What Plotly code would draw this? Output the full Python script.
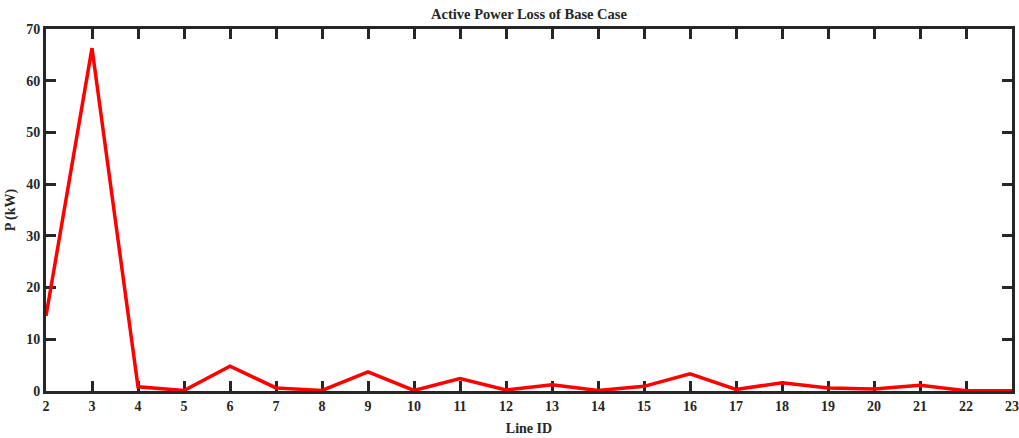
import plotly.graph_objects as go

# Active power loss per distribution line (base case)
line_ids = list(range(2, 24))
loss_kw = [14.5, 66.3, 0.8, 0.1, 4.8, 0.6, 0.1, 3.7, 0.1, 2.4, 0.2,
           1.2, 0.1, 0.9, 3.3, 0.3, 1.6, 0.6, 0.4, 1.1, 0.05, 0.05]

x_ticks = list(range(2, 24))
y_ticks = list(range(0, 71, 10))

axis_color = "#262626"
font_family = "Liberation Serif, Times New Roman, serif"

fig = go.Figure()
fig.add_trace(go.Scatter(
    x=line_ids, y=loss_kw, mode="lines",
    line=dict(color="#ff0000", width=3.5),
    cliponaxis=False, showlegend=False,
))

axis_common = dict(
    showline=True, linewidth=3, linecolor=axis_color, mirror="allticks",
    ticks="inside", ticklen=10, tickwidth=3, tickcolor=axis_color,
    showgrid=False, zeroline=False, layer="below traces", automargin=False,
    tickfont=dict(family=font_family, size=14, color=axis_color),
)

fig.update_layout(
    width=1019, height=438,
    margin=dict(l=46, r=7, t=29, b=47),
    paper_bgcolor="white", plot_bgcolor="white",
    title=dict(text="<b>Active Power Loss of Base Case</b>", x=0.5, xref="paper",
               y=1, yref="container", yanchor="top", pad=dict(t=9),
               font=dict(family=font_family, size=14.5, color=axis_color)),
    xaxis=dict(range=[2, 23], tickvals=x_ticks, ticktext=[f"<b>{v}</b>" for v in x_ticks],
               title=dict(text="<b>Line ID</b>", standoff=11,
                          font=dict(family=font_family, size=14, color=axis_color)),
               **axis_common),
    yaxis=dict(range=[0, 70], tickvals=y_ticks, ticktext=[f"<b>{v}</b>" for v in y_ticks],
               title=dict(text="<b>P (kW)</b>", standoff=8,
                          font=dict(family=font_family, size=14, color=axis_color)),
               **axis_common),
)

fig.write_html("out.html")
